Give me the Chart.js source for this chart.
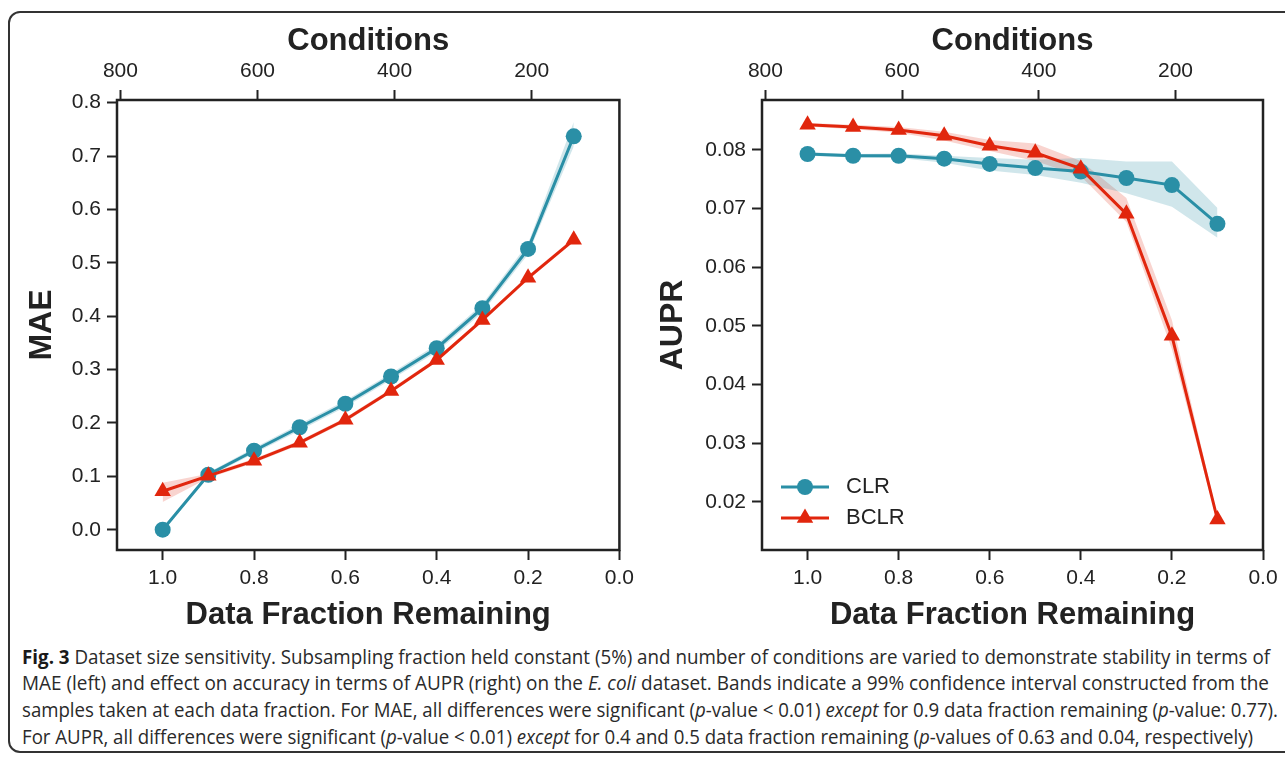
<!DOCTYPE html>
<html>
<head>
<meta charset="utf-8">
<script src="https://cdn.jsdelivr.net/npm/chart.js@4.4.1/dist/chart.umd.min.js"></script>
<style>
  html, body { margin: 0; padding: 0; background: #fff; }
  body { width: 1285px; height: 757px; position: relative; overflow: hidden; }
  #frame { position: absolute; left: 8px; top: 11px; width: 1320px; height: 742px; border: 2px solid #333; border-radius: 12px; box-sizing: border-box; }
  #maeChart { position: absolute; left: 0; top: 0; }
  #auprChart { position: absolute; left: 640px; top: 0; }
  .cap { position: absolute; left: 22px; white-space: nowrap; font-family: 'Open Sans', sans-serif; font-size: 20px; color: #2a2a2a; transform-origin: 0 50%; line-height: 22px; }
  .cap b { color: #1a1a1a; }
</style>
</head>
<body>
<div id="frame"></div>
<canvas id="maeChart" width="640" height="640"></canvas>
<canvas id="auprChart" width="645" height="640"></canvas>
<div class="cap" data-w="1248" style="top:646px"><b>Fig. 3</b> Dataset size sensitivity. Subsampling fraction held constant (5%) and number of conditions are varied to demonstrate stability in terms of</div>
<div class="cap" data-w="1247" style="top:672px">MAE (left) and effect on accuracy in terms of AUPR (right) on the <i>E. coli</i> dataset. Bands indicate a 99% confidence interval constructed from the</div>
<div class="cap" data-w="1256" style="top:699px">samples taken at each data fraction. For MAE, all differences were significant (<i>p</i>-value &lt; 0.01) <i>except</i> for 0.9 data fraction remaining (<i>p</i>-value: 0.77).</div>
<div class="cap" data-w="1231" style="top:726px">For AUPR, all differences were significant (<i>p</i>-value &lt; 0.01) <i>except</i> for 0.4 and 0.5 data fraction remaining (<i>p</i>-values of 0.63 and 0.04, respectively)</div>
<script>
// values
const fractions = [1.0, 0.9, 0.8, 0.7, 0.6, 0.5, 0.4, 0.3, 0.2, 0.1];

const maeClr     = [0.000, 0.103, 0.148, 0.192, 0.236, 0.287, 0.340, 0.415, 0.526, 0.737];
const maeClrLow  = [0.000, 0.099, 0.143, 0.186, 0.230, 0.281, 0.333, 0.407, 0.516, 0.718];
const maeClrHigh = [0.000, 0.107, 0.153, 0.198, 0.242, 0.293, 0.347, 0.423, 0.536, 0.764];
const maeBclr     = [0.072, 0.101, 0.129, 0.163, 0.206, 0.260, 0.318, 0.393, 0.472, 0.543];
const maeBclrLow  = [0.052, 0.097, 0.125, 0.159, 0.202, 0.256, 0.314, 0.389, 0.468, 0.539];
const maeBclrHigh = [0.088, 0.105, 0.133, 0.167, 0.210, 0.264, 0.322, 0.397, 0.476, 0.547];

const auprClr     = [0.0793, 0.0790, 0.0790, 0.0785, 0.0776, 0.0769, 0.0763, 0.0752, 0.0740, 0.0674];
const auprClrLow  = [0.0790, 0.0787, 0.0786, 0.0778, 0.0765, 0.0757, 0.0744, 0.0726, 0.0703, 0.0650];
const auprClrHigh = [0.0796, 0.0793, 0.0794, 0.0790, 0.0786, 0.0783, 0.0786, 0.0780, 0.0780, 0.0701];
const auprBclr     = [0.0843, 0.0839, 0.0834, 0.0824, 0.0807, 0.0795, 0.0768, 0.0691, 0.0483, 0.0170];
const auprBclrLow  = [0.0840, 0.0835, 0.0829, 0.0816, 0.0798, 0.0781, 0.0755, 0.0677, 0.0460, 0.0165];
const auprBclrHigh = [0.0846, 0.0843, 0.0839, 0.0831, 0.0817, 0.0811, 0.0781, 0.0718, 0.0510, 0.0175];

const fractionTicks = [1.0, 0.8, 0.6, 0.4, 0.2, 0.0];
const conditionTicks = [800, 600, 400, 200];
const maeTicks = [0.0, 0.1, 0.2, 0.3, 0.4, 0.5, 0.6, 0.7, 0.8];
const auprTicks = [0.02, 0.03, 0.04, 0.05, 0.06, 0.07, 0.08];

const TEAL = '#2a8fa6';
const RED = '#e1260d';
const INK = '#222';

Chart.defaults.font.family = "'Liberation Sans', Arial, sans-serif";
Chart.defaults.font.size = 21;
Chart.defaults.color = INK;

function pts(ys) {
  return ys.map((y, i) => ({ x: fractions[i], y }));
}

function series(label, ys, color, style, radius) {
  return {
    label, data: pts(ys), borderColor: color, backgroundColor: color, borderWidth: 3,
    pointStyle: style, pointRadius: radius, pointBorderWidth: 0, pointBackgroundColor: color, fill: false,
  };
}

function band(ys, color, fill) {
  return {
    band: true, data: pts(ys), borderWidth: 0, pointRadius: 0, backgroundColor: color, fill,
  };
}

// draws the closed box around the plot area
const boxPlugin = {
  id: 'box',
  afterDraw(chart) {
    const a = chart.chartArea;
    const ctx = chart.ctx;
    ctx.save();
    ctx.strokeStyle = INK;
    ctx.lineWidth = 2.5;
    ctx.strokeRect(a.left, a.top, a.right - a.left, a.bottom - a.top);
    ctx.restore();
  },
};

// legend drawn inside the lower-left corner of the plot
const innerLegend = {
  id: 'innerLegend',
  afterDraw(chart, args, opts) {
    if (!opts.show) return;
    const a = chart.chartArea;
    const ctx = chart.ctx;
    const items = chart.data.datasets.filter((d) => !d.band).slice().reverse();
    ctx.save();
    items.forEach((d, i) => {
      const y = a.bottom - 63 + i * 31;
      const x0 = a.left + 19;
      ctx.strokeStyle = d.borderColor;
      ctx.fillStyle = d.borderColor;
      ctx.lineWidth = 3;
      ctx.beginPath();
      ctx.moveTo(x0, y);
      ctx.lineTo(x0 + 48, y);
      ctx.stroke();
      Chart.helpers.drawPoint(ctx, { pointStyle: d.pointStyle, radius: d.pointRadius, rotation: 0, borderWidth: 0 }, x0 + 24, y);
      ctx.fillStyle = INK;
      ctx.font = "22px 'Liberation Sans', Arial, sans-serif";
      ctx.textBaseline = 'middle';
      ctx.fillText(d.label, x0 + 65, y);
    });
    ctx.restore();
  },
};

const tickGrid = { display: true, drawOnChartArea: false, drawTicks: true, tickLength: 10, tickColor: INK, tickWidth: 2 };

function buildOptions(c) {
  return {
    responsive: false,
    animation: false,
    layout: { padding: { left: 0, right: c.padRight, top: 0, bottom: 0 } },
    plugins: { legend: { display: false }, tooltip: { enabled: false }, innerLegend: { show: c.legend } },
    scales: {
      x: {
        type: 'linear', position: 'bottom', reverse: true, min: 0, max: 1.1,
        afterBuildTicks: (s) => { s.ticks = fractionTicks.map((v) => ({ value: v })); },
        afterFit: (s) => { s.height = 90; },
        ticks: { callback: (v) => v.toFixed(1), padding: 6, maxRotation: 0, autoSkip: false },
        grid: tickGrid, border: { display: false },
        title: { display: true, text: 'Data Fraction Remaining', font: { size: 31, weight: 'bold' }, padding: { top: 0, bottom: 6 } },
      },
      x2: {
        type: 'linear', position: 'top', reverse: true, min: 72, max: 805,
        afterBuildTicks: (s) => { s.ticks = conditionTicks.map((v) => ({ value: v })); },
        afterFit: (s) => { s.height = 100; },
        ticks: { callback: (v) => String(v), padding: 6, maxRotation: 0, autoSkip: false },
        grid: tickGrid, border: { display: false },
        title: { display: true, text: 'Conditions', font: { size: 31, weight: 'bold' }, padding: { top: 23, bottom: 0 } },
      },
      y: {
        type: 'linear', position: 'left', min: c.yMin, max: c.yMax,
        afterBuildTicks: (s) => { s.ticks = c.yTicks.map((v) => ({ value: v })); },
        afterFit: (s) => { s.width = c.yWidth; },
        ticks: { callback: (v) => v.toFixed(c.digits), padding: 6, autoSkip: false },
        grid: tickGrid, border: { display: false },
        title: { display: true, text: c.yTitle, font: { size: 32, weight: 'bold' }, padding: { top: c.yTitlePad, bottom: 0 } },
      },
    },
  };
}

new Chart(document.getElementById('maeChart'), {
  type: 'line',
  data: {
    datasets: [
      series('BCLR', maeBclr, RED, 'triangle', 9.5),
      series('CLR', maeClr, TEAL, 'circle', 8),
      band(maeClrHigh, 'rgba(42,143,166,0.22)', '+1'),
      band(maeClrLow, 'rgba(0,0,0,0)', false),
      band(maeBclrHigh, 'rgba(225,38,13,0.2)', '+1'),
      band(maeBclrLow, 'rgba(0,0,0,0)', false),
    ],
  },
  options: buildOptions({ padRight: 20, yMin: -0.038, yMax: 0.805, yTicks: maeTicks, digits: 1, yWidth: 117, yTitle: 'MAE', yTitlePad: 23, legend: false }),
  plugins: [boxPlugin, innerLegend],
});

new Chart(document.getElementById('auprChart'), {
  type: 'line',
  data: {
    datasets: [
      series('BCLR', auprBclr, RED, 'triangle', 9.5),
      series('CLR', auprClr, TEAL, 'circle', 8),
      band(auprClrHigh, 'rgba(42,143,166,0.22)', '+1'),
      band(auprClrLow, 'rgba(0,0,0,0)', false),
      band(auprBclrHigh, 'rgba(225,38,13,0.2)', '+1'),
      band(auprBclrLow, 'rgba(0,0,0,0)', false),
    ],
  },
  options: buildOptions({ padRight: 22, yMin: 0.0118, yMax: 0.0885, yTicks: auprTicks, digits: 2, yWidth: 122, yTitle: 'AUPR', yTitlePad: 14, legend: true }),
  plugins: [boxPlugin, innerLegend],
});

// squeeze each caption line to the width it has in the figure
document.querySelectorAll('.cap').forEach((el) => {
  const w = el.getBoundingClientRect().width;
  el.style.transform = 'scaleX(' + (Number(el.dataset.w) / w) + ')';
});
</script>
</body>
</html>
